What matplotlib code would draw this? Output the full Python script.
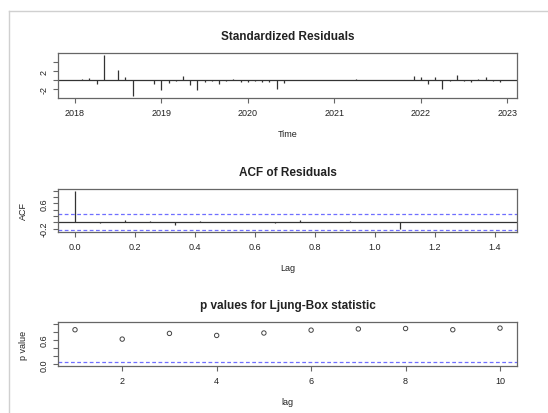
import numpy as np
import matplotlib.pyplot as plt
from matplotlib.lines import Line2D

plt.rcParams['font.family'] = ['Liberation Sans', 'DejaVu Sans']

# Standardized residuals, monthly 2018-01 .. 2022-12
resid = [0.0, 0.2, 0.4, -0.9, 5.63, 0.1, 2.2, 0.6, -3.63, 0.05,
         -0.1, -0.8, -2.2, -0.7, -0.15, 0.8, -1.1, -2.3, -0.5, -0.3,
         -0.8, -0.2, 0.3, -0.5, -0.4, -0.3, -0.5, -0.5, -2.0, -0.6,
         0.0, 0.1, -0.1, 0.1, -0.1, 0.0, 0.0, 0.0, 0.05, 0.2,
         -0.1, 0.0, 0.05, 0.0, 0.0, 0.1, 0.0, 0.9, 0.7, -0.9,
         0.7, -1.9, -0.3, 1.0, -0.3, -0.5, 0.3, 0.7, -0.2, -0.4]
start_year = 2018

# ACF of residuals, lags 0..17 (months)
acf_vals = [1.0, -0.02, 0.07, 0.03, -0.08, 0.05, 0.02, 0.01, -0.02, 0.08,
            0.02, 0.05, 0.01, -0.21, 0.02, 0.0, 0.01, 0.02]

# Ljung-Box p-values, lags 1..10
lb_lags = [1, 2, 3, 4, 5, 6, 7, 8, 9, 10]
lb_pvals = [0.85, 0.62, 0.76, 0.71, 0.77, 0.84, 0.87, 0.88, 0.85, 0.89]

W, H = 548, 414
fig = plt.figure(figsize=(W / 100, H / 100), dpi=100)

box_col = '#666666'
txt_col = '#222222'
blue = '#6f6fff'


def make_axes(top_px, bottom_px):
    ax = fig.add_axes([58 / W, 1 - bottom_px / H, (517 - 58) / W, (bottom_px - top_px) / H])
    for s in ax.spines.values():
        s.set_color(box_col)
        s.set_linewidth(0.9)
    ax.tick_params(colors=box_col, labelcolor=txt_col, labelsize=6.5, length=3.5, width=0.8)
    return ax


def r_range(lo, hi):
    d = (hi - lo) * 0.04
    return lo - d, hi + d


def set_yticks(ax, ticks, labels):
    ax.set_yticks(ticks)
    ax.set_yticklabels(labels, rotation=90, va='center')


# Panel 1: standardized residuals
t = start_year + np.arange(len(resid)) / 12
ax1 = make_axes(54, 99)
ax1.vlines(t, 0, resid, color='#333333', linewidth=0.9)
ax1.axhline(0, color='#333333', linewidth=0.9)
ax1.set_xlim(*r_range(t[0], t[-1]))
ax1.set_ylim(*r_range(min(resid), max(resid)))
ax1.set_xticks(range(2018, 2024))
set_yticks(ax1, [-2, 0, 2, 4], ['-2', '', '2', ''])
ax1.set_title('Standardized Residuals', fontsize=8.5, fontweight='bold', color=txt_col, pad=10)
ax1.set_xlabel('Time', fontsize=6.5, color=txt_col, labelpad=9)

# Panel 2: ACF of residuals
lags = np.arange(len(acf_vals)) / 12
clim = 1.96 / np.sqrt(len(resid))
ax2 = make_axes(190, 233)
ax2.vlines(lags, 0, acf_vals, color='#333333', linewidth=0.9)
ax2.axhline(0, color='#333333', linewidth=0.9)
ax2.axhline(clim, color=blue, linestyle=(0, (3, 2)), linewidth=0.9)
ax2.axhline(-clim, color=blue, linestyle=(0, (3, 2)), linewidth=0.9)
ax2.set_xlim(*r_range(lags[0], lags[-1]))
ax2.set_ylim(*r_range(min(-clim, min(acf_vals)), max(clim, max(acf_vals))))
xt = np.arange(0, 1.41, 0.2)
ax2.set_xticks(xt)
ax2.set_xticklabels([f'{v:.1f}' for v in xt])
set_yticks(ax2, [-0.2, 0.0, 0.2, 0.4, 0.6, 0.8, 1.0], ['-0.2', '', '', '', '0.6', '', ''])
ax2.set_title('ACF of Residuals', fontsize=8.5, fontweight='bold', color=txt_col, pad=10)
ax2.set_xlabel('Lag', fontsize=6.5, color=txt_col, labelpad=9)
ax2.set_ylabel('ACF', fontsize=6.5, color=txt_col, labelpad=8)

# Panel 3: Ljung-Box p-values
ax3 = make_axes(323, 367)
ax3.scatter(lb_lags, lb_pvals, s=10, facecolors='none', edgecolors='#444444', linewidths=0.7)
ax3.axhline(0.05, color=blue, linestyle=(0, (3, 2)), linewidth=0.9)
ax3.set_xlim(*r_range(1, 10))
ax3.set_ylim(*r_range(0, 1))
ax3.set_xticks([2, 4, 6, 8, 10])
set_yticks(ax3, [0.0, 0.2, 0.4, 0.6, 0.8, 1.0], ['0.0', '', '', '0.6', '', ''])
ax3.set_title('p values for Ljung-Box statistic', fontsize=8.5, fontweight='bold', color=txt_col, pad=10)
ax3.set_xlabel('lag', fontsize=6.5, color=txt_col, labelpad=9)
ax3.set_ylabel('p value', fontsize=6.5, color=txt_col, labelpad=8)

# light frame of the screenshot
fig.add_artist(Line2D([9 / W, 9 / W], [0, 1 - 12 / H], transform=fig.transFigure, color='#d0d0d0', linewidth=1))
fig.add_artist(Line2D([9 / W, 1], [1 - 12 / H, 1 - 12 / H], transform=fig.transFigure, color='#d0d0d0', linewidth=1))

fig.savefig('out.png', dpi=100)
